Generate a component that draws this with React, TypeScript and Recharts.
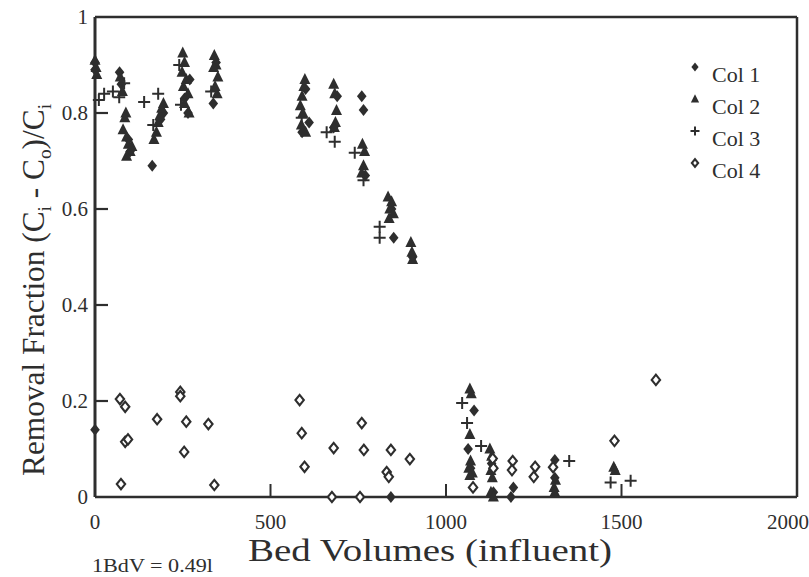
import React from 'react';
import { ScatterChart, Scatter, XAxis, YAxis, ReferenceLine, Label } from 'recharts';

const INK = '#2e2e2e';
const FONT = '"Liberation Serif", "Times New Roman", serif';

const xTicks = [0, 500, 1000, 1500, 2000];
const yTicks = [0, 0.2, 0.4, 0.6, 0.8, 1];
const seriesNames = ['Col 1', 'Col 2', 'Col 3', 'Col 4'];

// [bed volumes, removal fraction]
const col1 = [
  [0, 0.905], [0, 0.89], [0, 0.14], [70, 0.885], [75, 0.86], [95, 0.745], [100, 0.72],
  [163, 0.69], [185, 0.785], [195, 0.8], [265, 0.8], [255, 0.83], [270, 0.87], [337, 0.82],
  [345, 0.905], [590, 0.76], [600, 0.85], [610, 0.78], [680, 0.77], [690, 0.835], [760, 0.835],
  [765, 0.806], [770, 0.67], [851, 0.54], [845, 0.6], [905, 0.5], [843, 0], [1080, 0.18],
  [1063, 0.1], [1070, 0.06], [1130, 0.07], [1135, 0.01], [1185, 0.0], [1192, 0.02],
  [1310, 0.077], [1310, 0.04],
];

const col2 = [
  [0, 0.91], [3, 0.895], [5, 0.88], [72, 0.875], [78, 0.845], [88, 0.8], [85, 0.79], [80, 0.765],
  [90, 0.75], [95, 0.735], [100, 0.72], [90, 0.71], [105, 0.73], [168, 0.745], [175, 0.76],
  [180, 0.78], [185, 0.795], [190, 0.81], [195, 0.82], [250, 0.925], [255, 0.905], [248, 0.885],
  [260, 0.87], [252, 0.855], [265, 0.84], [255, 0.82], [268, 0.8], [340, 0.92], [345, 0.9],
  [338, 0.895], [350, 0.875], [342, 0.855], [348, 0.84], [598, 0.87], [595, 0.855], [590, 0.835],
  [585, 0.815], [592, 0.8], [588, 0.775], [600, 0.76], [680, 0.86], [683, 0.84], [688, 0.805],
  [685, 0.78], [682, 0.77], [762, 0.735], [768, 0.72], [765, 0.69], [760, 0.675], [835, 0.625],
  [845, 0.615], [840, 0.6], [850, 0.59], [838, 0.58], [900, 0.53], [903, 0.51], [905, 0.495],
  [1068, 0.225], [1072, 0.215], [1068, 0.13], [1070, 0.075], [1065, 0.06], [1075, 0.05],
  [1068, 0.045], [1125, 0.1], [1130, 0.085], [1128, 0.055], [1132, 0.04], [1128, 0.01],
  [1135, 0.0], [1312, 0.035], [1308, 0.02], [1310, 0.01], [1478, 0.062], [1482, 0.055],
];

const col3 = [
  [11, 0.827], [26, 0.84], [51, 0.845], [69, 0.833], [83, 0.862], [140, 0.823], [180, 0.84],
  [166, 0.775], [240, 0.9], [245, 0.817], [331, 0.845], [589, 0.79], [660, 0.76], [683, 0.74],
  [740, 0.717], [765, 0.66], [811, 0.563], [811, 0.54], [1046, 0.196], [1060, 0.154],
  [1100, 0.106], [1351, 0.075], [1469, 0.03], [1526, 0.034],
];

const col4 = [
  [71, 0.204], [86, 0.188], [86, 0.115], [94, 0.12], [74, 0.027], [177, 0.162], [243, 0.219],
  [243, 0.21], [260, 0.157], [254, 0.094], [323, 0.152], [340, 0.025], [583, 0.202],
  [589, 0.133], [597, 0.063], [680, 0.102], [760, 0.154], [766, 0.098], [843, 0.098],
  [831, 0.052], [837, 0.042], [897, 0.079], [675, 0], [755, 0], [1077, 0.02], [1133, 0.08],
  [1135, 0.06], [1190, 0.075], [1188, 0.056], [1254, 0.063], [1250, 0.042], [1305, 0.062],
  [1480, 0.117], [1598, 0.244],
];

const toPoints = (rows: number[][]) => rows.map(([x, y]) => ({ x, y }));

// inner y tick positions, drawn through the y scale as short dashes at x = 0
const yTickMarks = yTicks.filter((t) => t > 0 && t < 1).map((t) => ({ x: 0, y: t }));

const diamondPath = (cx: number, cy: number, w: number, h: number) =>
  `M${cx},${cy - h}L${cx + w},${cy}L${cx},${cy + h}L${cx - w},${cy}Z`;

const FilledDiamond = ({ cx, cy, s = 1 }: any) => (
  <path d={diamondPath(cx, cy, 4.8 * s, 6 * s)} fill={INK} />
);
const FilledTriangle = ({ cx, cy, s = 1 }: any) => (
  <path
    d={`M${cx},${cy - 6.5 * s}L${cx + 5.5 * s},${cy + 4.5 * s}L${cx - 5.5 * s},${cy + 4.5 * s}Z`}
    fill={INK}
  />
);
const Plus = ({ cx, cy, s = 1 }: any) => (
  <path
    d={`M${cx - 6 * s},${cy}H${cx + 6 * s}M${cx},${cy - 6 * s}V${cy + 6 * s}`}
    stroke={INK}
    strokeWidth={2}
  />
);
const OpenDiamond = ({ cx, cy, s = 1 }: any) => (
  <path d={diamondPath(cx, cy, 4.2 * s, 5.2 * s)} fill="#fff" stroke={INK} strokeWidth={2.1} />
);
const TickDash = ({ cx, cy }: any) => (
  <path d={`M${cx},${cy}H${cx + 13}`} stroke={INK} strokeWidth={2.2} fill="none" />
);

const markers = [FilledDiamond, FilledTriangle, Plus, OpenDiamond];

// legend drawn as plain svg in the top-right corner of the frame
const LegendBox = () => (
  <g>
    {seriesNames.map((name, i) => {
      const Mark = markers[i];
      const rowY = 74 + i * 32;
      return (
        <g key={name}>
          <Mark cx={695} cy={rowY - 7} s={0.75} />
          <text x={712} y={rowY + 8} fontFamily={FONT} fontSize={22} fill={INK}>
            {name}
          </text>
        </g>
      );
    })}
  </g>
);

const YTitle = () => (
  <text
    x={44}
    y={290}
    transform="rotate(-90, 44, 290)"
    textAnchor="middle"
    fontFamily={FONT}
    fontSize={31}
    fill={INK}
    textLength={372}
    lengthAdjust="spacingAndGlyphs"
  >
    Removal Fraction (C<tspan dy={7} fontSize={19}>i</tspan>
    <tspan dy={-7}> - C</tspan>
    <tspan dy={7} fontSize={19}>o</tspan>
    <tspan dy={-7}>)/C</tspan>
    <tspan dy={7} fontSize={19}>i</tspan>
  </text>
);

const XTitle = () => (
  <g>
    <text
      x={430}
      y={561}
      textAnchor="middle"
      fontFamily={FONT}
      fontSize={31}
      fill={INK}
      textLength={364}
      lengthAdjust="spacingAndGlyphs"
    >
      Bed Volumes (influent)
    </text>
    <text
      x={92}
      y={572}
      fontFamily={FONT}
      fontSize={19}
      fill={INK}
      textLength={121}
      lengthAdjust="spacingAndGlyphs"
    >
      1BdV = 0.49l
    </text>
    <LegendBox />
  </g>
);

export default function App() {
  const tickStyle = { fontFamily: FONT, fontSize: 21, fill: INK };
  return (
    <div style={{ position: 'absolute', left: 0, top: 0, background: '#fff' }}>
      <ScatterChart width={809} height={577} margin={{ top: 17, right: 12, bottom: 0, left: 0 }}>
        <XAxis
          type="number"
          dataKey="x"
          domain={[0, 2000]}
          ticks={xTicks}
          height={80}
          tickSize={-13}
          tickMargin={30}
          tick={tickStyle}
          axisLine={{ stroke: INK, strokeWidth: 2.5 }}
          tickLine={{ stroke: INK, strokeWidth: 2 }}
        >
          <Label content={<XTitle />} />
        </XAxis>
        <YAxis
          type="number"
          dataKey="y"
          domain={[0, 1]}
          ticks={yTicks}
          width={95}
          tickSize={0}
          tickMargin={7}
          tick={tickStyle}
          tickLine={false}
          axisLine={{ stroke: INK, strokeWidth: 3 }}
        >
          <Label content={<YTitle />} />
        </YAxis>
        <ReferenceLine y={1} stroke={INK} strokeWidth={2.5} />
        <ReferenceLine x={2000} stroke={INK} strokeWidth={2.5} />
        <Scatter name="ticks" data={yTickMarks} shape={<TickDash />} isAnimationActive={false} legendType="none" />
        <Scatter name="Col 1" data={toPoints(col1)} shape={<FilledDiamond />} isAnimationActive={false} />
        <Scatter name="Col 2" data={toPoints(col2)} shape={<FilledTriangle />} isAnimationActive={false} />
        <Scatter name="Col 3" data={toPoints(col3)} shape={<Plus />} isAnimationActive={false} />
        <Scatter name="Col 4" data={toPoints(col4)} shape={<OpenDiamond />} isAnimationActive={false} />
      </ScatterChart>
    </div>
  );
}
